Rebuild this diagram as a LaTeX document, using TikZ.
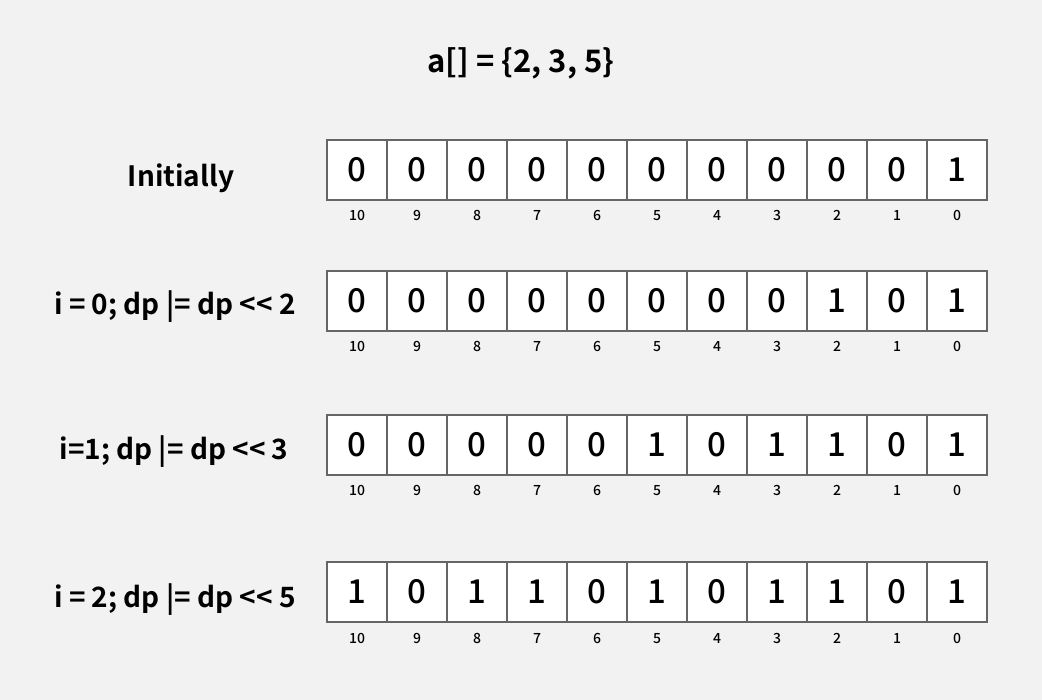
\documentclass[tikz,border=0pt]{standalone}
\usepackage{fontspec}
\setmainfont{Noto Sans CJK SC}[BoldFont={Noto Sans CJK SC Bold}]
\newfontfamily\medfont{Noto Sans CJK SC Medium}
\begin{document}
\begin{tikzpicture}[x=1pt,y=-1pt,
  cellbox/.style={draw=black!60,line width=1.6pt,fill=white,minimum width=60pt,minimum height=60pt,inner sep=0pt,font=\medfont\fontsize{33}{36}\selectfont},
  idx/.style={font=\medfont\fontsize{14}{16}\selectfont,anchor=base,inner sep=0pt},
  lbl/.style={font=\bfseries\fontsize{28}{32}\selectfont},
  ttl/.style={font=\bfseries\fontsize{31}{34}\selectfont}]
\fill[black!5] (0,0) rectangle (1042,700);
\useasboundingbox (0,0) rectangle (1042,700);
\node[ttl] (title) at (521,63) {a[] = \{2, 3, 5\}};
\foreach \r/\y/\bits in {A/170/{0,0,0,0,0,0,0,0,0,0,1},B/301/{0,0,0,0,0,0,0,0,1,0,1},C/445/{0,0,0,0,0,1,0,1,1,0,1},D/592/{1,0,1,1,0,1,0,1,1,0,1}}{
  \foreach \b [count=\k from 0] in \bits {
    \pgfmathtruncatemacro{\ix}{10-\k}
    \node[cellbox] (c\r\k) at (357+60*\k,\y) {\b};
    \node[idx] (i\r\k) at (357+60*\k,\y+51) {\ix};
  }
}
\node[lbl] (lA) at (181,178) {Initially};
\node[lbl] (lB) at (175,307) {i = 0; dp |= dp <{}< 2};
\node[lbl] (lC) at (174,452) {i=1; dp |= dp <{}< 3};
\node[lbl] (lD) at (175,600) {i = 2; dp |= dp <{}< 5};
\end{tikzpicture}
\end{document}
